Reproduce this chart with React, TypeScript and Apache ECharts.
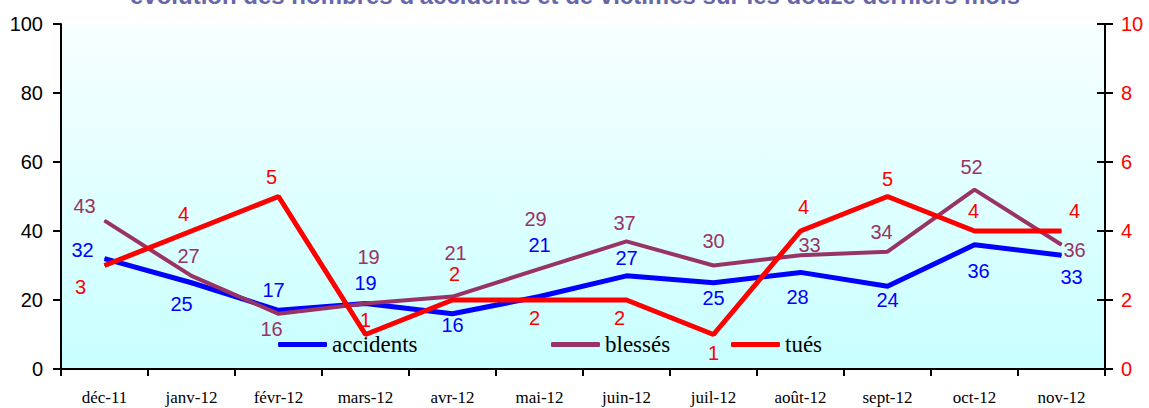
import React, { useEffect, useRef } from "react";
import * as echarts from "echarts";

const categories = ["déc-11", "janv-12", "févr-12", "mars-12", "avr-12", "mai-12", "juin-12", "juil-12", "août-12", "sept-12", "oct-12", "nov-12"];
const accidents = [32, 25, 17, 19, 16, 21, 27, 25, 28, 24, 36, 33];
const blesses = [43, 27, 16, 19, 21, 29, 37, 30, 33, 34, 52, 36];
const tues = [3, 4, 5, 1, 2, 2, 2, 1, 4, 5, 4, 4];

// label offsets (dx, dy) in px relative to each point
const accOffsets = [[-22, -9], [-10, 21], [-5, -20], [0, -20], [0, 11], [0, -52], [0, -18], [0, 15], [-3, 25], [0, 14], [4, 26], [10, 22]];
const blOffsets = [[-20, -15], [-3, -20], [-7, 15], [3, -46], [3, -44], [-4, -50], [-2, -18], [0, -25], [9, -10], [-6, -20], [-3, -23], [13, 5]];
const tuOffsets = [[-24, 21], [-8, -17], [-7, -20], [0, -15], [2, -26], [-5, 18], [-7, 18], [0, 18], [3, -24], [0, -18], [-1, -20], [13, -20]];

const SANS = "Liberation Sans";
const SERIF = "Liberation Serif";

function mk(values: number[], offsets: number[][]) {
  return values.map((v, i) => ({ value: v, label: { offset: offsets[i] } }));
}

export default function App() {
  const ref = useRef<HTMLDivElement>(null);
  useEffect(() => {
    if (!ref.current) return;
    const chart = echarts.init(ref.current, null, { renderer: "svg" });
    const lineSeries = (name: string, data: number[], offs: number[][], color: string, width: number, yIdx: number) => ({
      name,
      type: "line",
      yAxisIndex: yIdx,
      data: mk(data, offs),
      symbol: "circle",
      symbolSize: 1,
      showSymbol: true,
      lineStyle: { color, width },
      itemStyle: { color },
      label: {
        show: true,
        position: "inside",
        color,
        fontFamily: SANS,
        fontSize: 20,
      },
      z: 3,
    });
    const legendBase = {
      top: 333,
      padding: 0,
      itemWidth: 49,
      itemHeight: 5,
      itemGap: 0,
      icon: "roundRect",
      textStyle: { fontFamily: SERIF, fontSize: 23, color: "#000" },
    };
    chart.setOption({
      animation: false,
      backgroundColor: "#ffffff",
      title: {
        text: "évolution des nombres d'accidents et de victimes sur les douze derniers mois",
        left: 130,
        top: -17,
        padding: 0,
        textStyle: { fontFamily: SANS, fontSize: 24, fontWeight: "bold", color: "#6666aa" },
      },
      grid: {
        left: 61,
        right: 44,
        top: 24,
        bottom: 39,
        show: true,
        borderWidth: 0,
        backgroundColor: new echarts.graphic.LinearGradient(0, 0, 0, 1, [
          { offset: 0, color: "#f8ffff" },
          { offset: 1, color: "#c8ffff" },
        ]),
      },
      legend: [
        { ...legendBase, left: 278, data: ["accidents"] },
        { ...legendBase, left: 551, data: ["blessés"] },
        { ...legendBase, left: 731, data: ["tués"] },
      ],
      xAxis: {
        type: "category",
        data: categories,
        boundaryGap: true,
        axisLine: { lineStyle: { color: "#000", width: 2 } },
        axisTick: { show: true, length: 7, lineStyle: { color: "#000", width: 2 } },
        axisLabel: { fontFamily: SERIF, fontSize: 17, color: "#000", margin: 20, interval: 0 },
      },
      yAxis: [
        {
          type: "value",
          min: 0,
          max: 100,
          interval: 20,
          position: "left",
          axisLine: { show: true, lineStyle: { color: "#000", width: 2 } },
          axisTick: { show: true, length: 8, lineStyle: { color: "#000", width: 2 } },
          axisLabel: { fontFamily: SANS, fontSize: 20, color: "#000", margin: 18 },
          splitLine: { show: false },
        },
        {
          type: "value",
          min: 0,
          max: 10,
          interval: 2,
          position: "right",
          offset: 0,
          axisLine: { show: true, lineStyle: { color: "#000", width: 2 } },
          axisTick: { show: true, length: 8, lineStyle: { color: "#000", width: 2 } },
          axisLabel: { fontFamily: SANS, fontSize: 20, color: "#ff0000", margin: 16 },
          splitLine: { show: false },
        },
        {
          type: "value",
          min: 0,
          max: 10,
          interval: 2,
          position: "right",
          offset: 0,
          axisLine: { show: false },
          axisTick: { show: true, inside: true, length: 8, lineStyle: { color: "#000", width: 2 } },
          axisLabel: { show: false },
          splitLine: { show: false },
        },
      ],
      series: [
        lineSeries("accidents", accidents, accOffsets, "#0000ff", 5, 0),
        lineSeries("blessés", blesses, blOffsets, "#993366", 4, 0),
        lineSeries("tués", tues, tuOffsets, "#ff0000", 5, 1),
      ],
    });
    return () => chart.dispose();
  }, []);
  return <div ref={ref} style={{ position: "absolute", left: 0, top: 0, width: 1149, height: 408 }} />;
}
